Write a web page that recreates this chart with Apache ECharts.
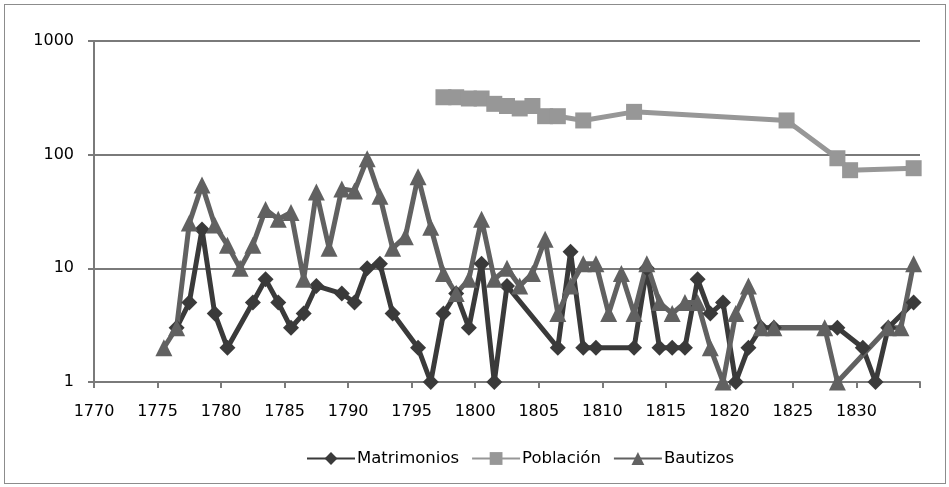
<!DOCTYPE html>
<html>
<head>
<meta charset="utf-8">
<script src="https://cdn.jsdelivr.net/npm/echarts@6/dist/echarts.min.js"></script>
<style>
  html, body { margin: 0; padding: 0; background: #fff; }
  #frame { position: absolute; left: 4px; top: 4px; width: 940px; height: 478px; border: 1px solid #8c8c8c; }
  #main { position: absolute; left: 0; top: 0; width: 949px; height: 487px; }
</style>
</head>
<body>
<div id="frame"></div>
<div id="main"></div>
<script>
// años (centro de cada año) y valores
var matYears = [1776.5, 1777.5, 1778.5, 1779.5, 1780.5, 1782.5, 1783.5, 1784.5, 1785.5, 1786.5,
                1787.5, 1789.5, 1790.5, 1791.5, 1792.5, 1793.5, 1795.5, 1796.5, 1797.5, 1798.5,
                1799.5, 1800.5, 1801.5, 1802.5, 1806.5, 1807.5, 1808.5, 1809.5, 1812.5, 1813.5,
                1814.5, 1815.5, 1816.5, 1817.5, 1818.5, 1819.5, 1820.5, 1821.5, 1822.5, 1823.5,
                1828.5, 1830.5, 1831.5, 1832.5, 1834.5];
var matValues = [3, 5, 22, 4, 2, 5, 8, 5, 3, 4,
                 7, 6, 5, 10, 11, 4, 2, 1, 4, 6,
                 3, 11, 1, 7, 2, 14, 2, 2, 2, 10,
                 2, 2, 2, 8, 4, 5, 1, 2, 3, 3,
                 3, 2, 1, 3, 5];

var pobYears = [1797.5, 1798.5, 1799.5, 1800.5, 1801.5, 1802.5, 1803.5, 1804.5, 1805.5, 1806.5,
                1808.5, 1812.5, 1824.5, 1828.5, 1829.5, 1834.5];
var pobValues = [320, 320, 312, 312, 280, 268, 255, 268, 218, 218,
                 200, 238, 200, 93, 73, 76];

var bauYears = [1775.5, 1776.5, 1777.5, 1778.5, 1779.5, 1780.5, 1781.5, 1782.5, 1783.5, 1784.5,
                1785.5, 1786.5, 1787.5, 1788.5, 1789.5, 1790.5, 1791.5, 1792.5, 1793.5, 1794.5,
                1795.5, 1796.5, 1797.5, 1798.5, 1799.5, 1800.5, 1801.5, 1802.5, 1803.5, 1804.5,
                1805.5, 1806.5, 1807.5, 1808.5, 1809.5, 1810.5, 1811.5, 1812.5, 1813.5, 1814.5,
                1815.5, 1816.5, 1817.5, 1818.5, 1819.5, 1820.5, 1821.5, 1822.5, 1823.5,
                1827.5, 1828.5, 1832.5, 1833.5, 1834.5];
var bauValues = [2, 3, 25, 54, 24, 16, 10, 16, 33, 27,
                 31, 8, 47, 15, 50, 48, 92, 43, 15, 19,
                 64, 23, 9, 6, 8, 27, 8, 10, 7, 9,
                 18, 4, 7, 11, 11, 4, 9, 4, 11, 5,
                 4, 5, 5, 2, 1, 4, 7, 3, 3,
                 3, 1, 3, 3, 11];

var seriesNames = ['Matrimonios', 'Población', 'Bautizos'];

function pairs(xs, ys) {
    var out = [];
    for (var i = 0; i < xs.length; i++) out.push([xs[i], ys[i]]);
    return out;
}

var myChart = echarts.init(document.getElementById('main'));

myChart.setOption({
    animation: false,
    backgroundColor: 'transparent',
    textStyle: { fontFamily: 'DejaVu Sans', fontSize: 16, color: '#000' },
    grid: { left: 94, right: 29, top: 41, bottom: 105 },
    legend: {
        bottom: 15,
        left: 301,
        itemWidth: 48,
        itemHeight: 16,
        itemGap: 12,
        textStyle: { fontFamily: 'DejaVu Sans', fontSize: 16.5, color: '#000', padding: [0, 0, 0, -3] },
        data: seriesNames
    },
    xAxis: {
        type: 'value',
        min: 1770,
        max: 1835,
        interval: 5,
        splitLine: { show: false },
        axisLine: { lineStyle: { color: '#7a7a7a', width: 2 } },
        axisTick: { length: 6, lineStyle: { color: '#7a7a7a', width: 2 } },
        axisLabel: {
            margin: 22,
            fontFamily: 'DejaVu Sans', fontSize: 16, color: '#000',
            formatter: function (v) { return v === 1835 ? '' : String(v); }
        }
    },
    yAxis: {
        type: 'log',
        logBase: 10,
        min: 1,
        max: 1000,
        axisLine: { show: true, lineStyle: { color: '#7a7a7a', width: 2 } },
        axisTick: { show: true, length: 6, lineStyle: { color: '#7a7a7a', width: 2 } },
        splitLine: { show: true, lineStyle: { color: '#7a7a7a', width: 2 } },
        axisLabel: {
            margin: 20, fontFamily: 'DejaVu Sans', fontSize: 16, color: '#000',
            formatter: function (v) { return String(Math.round(v)); }
        }
    },
    series: [
        {
            name: 'Matrimonios',
            type: 'line',
            symbol: 'diamond',
            symbolSize: 16,
            color: '#3a3a3a',
            lineStyle: { width: 5, color: '#3a3a3a' },
            itemStyle: { color: '#3a3a3a' },
            data: pairs(matYears, matValues)
        },
        {
            name: 'Población',
            type: 'line',
            symbol: 'rect',
            symbolSize: 16,
            color: '#979797',
            lineStyle: { width: 5, color: '#979797' },
            itemStyle: { color: '#979797' },
            data: pairs(pobYears, pobValues)
        },
        {
            name: 'Bautizos',
            type: 'line',
            symbol: 'triangle',
            symbolSize: 17,
            color: '#616161',
            lineStyle: { width: 5, color: '#616161' },
            itemStyle: { color: '#616161' },
            data: pairs(bauYears, bauValues)
        }
    ]
});
</script>
</body>
</html>
